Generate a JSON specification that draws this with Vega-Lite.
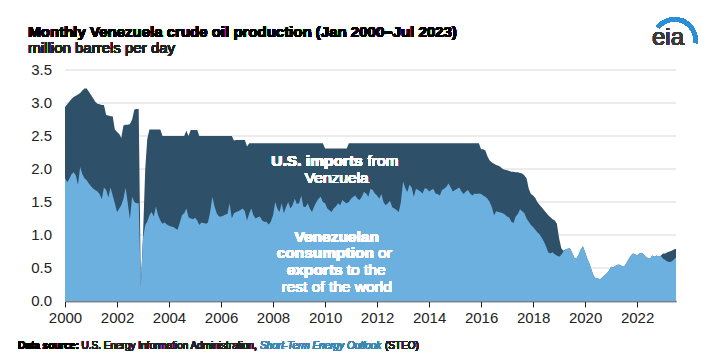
{
  "$schema": "https://vega.github.io/schema/vega-lite/v6.json",
  "width": 611,
  "height": 231,
  "autosize": {"type": "none"},
  "padding": {"left": 65, "top": 70, "right": 37, "bottom": 55},
  "background": "white",
  "config": {"view": {"stroke": null}, "font": "Liberation Sans", "text": {"font": "Liberation Sans"}},
  "datasets": {
    "yticks": [{"v": 0}, {"v": 0.5}, {"v": 1}, {"v": 1.5}, {"v": 2}, {"v": 2.5}, {"v": 3}, {"v": 3.5}],
    "production": [
    {"date":"2000-01-01","total":2.94,"other":1.86},{"date":"2000-02-01","total":2.98,"other":1.80},{"date":"2000-03-01","total":3.02,"other":1.85},{"date":"2000-04-01","total":3.06,"other":1.92},{"date":"2000-05-01","total":3.09,"other":1.95},{"date":"2000-06-01","total":3.11,"other":1.90},{"date":"2000-07-01","total":3.13,"other":1.76},{"date":"2000-08-01","total":3.15,"other":2.03},{"date":"2000-09-01","total":3.19,"other":1.92},{"date":"2000-10-01","total":3.22,"other":1.86},{"date":"2000-11-01","total":3.22,"other":1.83},{"date":"2000-12-01","total":3.17,"other":1.78},
    {"date":"2001-01-01","total":3.12,"other":1.74},{"date":"2001-02-01","total":3.07,"other":1.70},{"date":"2001-03-01","total":3.02,"other":1.68},{"date":"2001-04-01","total":2.99,"other":1.66},{"date":"2001-05-01","total":2.98,"other":1.62},{"date":"2001-06-01","total":2.97,"other":1.54},{"date":"2001-07-01","total":2.97,"other":1.72},{"date":"2001-08-01","total":2.82,"other":1.68},{"date":"2001-09-01","total":2.81,"other":1.57},{"date":"2001-10-01","total":2.80,"other":1.72},{"date":"2001-11-01","total":2.80,"other":1.60},{"date":"2001-12-01","total":2.60,"other":1.48},
    {"date":"2002-01-01","total":2.56,"other":1.35},{"date":"2002-02-01","total":2.53,"other":1.40},{"date":"2002-03-01","total":2.47,"other":1.45},{"date":"2002-04-01","total":2.66,"other":1.55},{"date":"2002-05-01","total":2.67,"other":1.72},{"date":"2002-06-01","total":2.67,"other":1.48},{"date":"2002-07-01","total":2.68,"other":1.24},{"date":"2002-08-01","total":2.75,"other":1.58},{"date":"2002-09-01","total":2.90,"other":1.50},{"date":"2002-10-01","total":2.91,"other":1.48},{"date":"2002-11-01","total":2.91,"other":1.48},{"date":"2002-12-01","total":0.25,"other":0.22},
    {"date":"2003-01-01","total":1.00,"other":0.95},{"date":"2003-02-01","total":2.00,"other":1.15},{"date":"2003-03-01","total":2.45,"other":1.20},{"date":"2003-04-01","total":2.60,"other":1.30},{"date":"2003-05-01","total":2.60,"other":1.35},{"date":"2003-06-01","total":2.60,"other":1.28},{"date":"2003-07-01","total":2.60,"other":1.43},{"date":"2003-08-01","total":2.60,"other":1.30},{"date":"2003-09-01","total":2.60,"other":1.22},{"date":"2003-10-01","total":2.50,"other":1.17},{"date":"2003-11-01","total":2.50,"other":1.19},{"date":"2003-12-01","total":2.50,"other":1.16},
    {"date":"2004-01-01","total":2.50,"other":1.14},{"date":"2004-02-01","total":2.50,"other":1.13},{"date":"2004-03-01","total":2.50,"other":1.12},{"date":"2004-04-01","total":2.50,"other":1.10},{"date":"2004-05-01","total":2.50,"other":1.08},{"date":"2004-06-01","total":2.50,"other":1.19},{"date":"2004-07-01","total":2.50,"other":1.30},{"date":"2004-08-01","total":2.50,"other":1.33},{"date":"2004-09-01","total":2.58,"other":1.40},{"date":"2004-10-01","total":2.50,"other":1.27},{"date":"2004-11-01","total":2.59,"other":1.25},{"date":"2004-12-01","total":2.59,"other":1.24},
    {"date":"2005-01-01","total":2.59,"other":1.26},{"date":"2005-02-01","total":2.59,"other":1.22},{"date":"2005-03-01","total":2.50,"other":1.15},{"date":"2005-04-01","total":2.50,"other":1.19},{"date":"2005-05-01","total":2.50,"other":1.18},{"date":"2005-06-01","total":2.50,"other":1.17},{"date":"2005-07-01","total":2.50,"other":1.19},{"date":"2005-08-01","total":2.50,"other":1.35},{"date":"2005-09-01","total":2.50,"other":1.58},{"date":"2005-10-01","total":2.50,"other":1.43},{"date":"2005-11-01","total":2.50,"other":1.33},{"date":"2005-12-01","total":2.50,"other":1.28},
    {"date":"2006-01-01","total":2.50,"other":1.28},{"date":"2006-02-01","total":2.50,"other":1.29},{"date":"2006-03-01","total":2.50,"other":1.31},{"date":"2006-04-01","total":2.50,"other":1.32},{"date":"2006-05-01","total":2.50,"other":1.48},{"date":"2006-06-01","total":2.50,"other":1.25},{"date":"2006-07-01","total":2.43,"other":1.33},{"date":"2006-08-01","total":2.44,"other":1.35},{"date":"2006-09-01","total":2.44,"other":1.36},{"date":"2006-10-01","total":2.44,"other":1.38},{"date":"2006-11-01","total":2.44,"other":1.40},{"date":"2006-12-01","total":2.44,"other":1.36},
    {"date":"2007-01-01","total":2.34,"other":1.22},{"date":"2007-02-01","total":2.39,"other":1.33},{"date":"2007-03-01","total":2.39,"other":1.40},{"date":"2007-04-01","total":2.39,"other":1.30},{"date":"2007-05-01","total":2.39,"other":1.25},{"date":"2007-06-01","total":2.39,"other":1.27},{"date":"2007-07-01","total":2.39,"other":1.28},{"date":"2007-08-01","total":2.39,"other":1.22},{"date":"2007-09-01","total":2.39,"other":1.20},{"date":"2007-10-01","total":2.39,"other":1.20},{"date":"2007-11-01","total":2.39,"other":1.16},{"date":"2007-12-01","total":2.39,"other":1.20},
    {"date":"2008-01-01","total":2.39,"other":1.30},{"date":"2008-02-01","total":2.39,"other":1.50},{"date":"2008-03-01","total":2.39,"other":1.40},{"date":"2008-04-01","total":2.39,"other":1.35},{"date":"2008-05-01","total":2.39,"other":1.48},{"date":"2008-06-01","total":2.39,"other":1.33},{"date":"2008-07-01","total":2.39,"other":1.42},{"date":"2008-08-01","total":2.39,"other":1.50},{"date":"2008-09-01","total":2.39,"other":1.40},{"date":"2008-10-01","total":2.39,"other":1.45},{"date":"2008-11-01","total":2.39,"other":1.55},{"date":"2008-12-01","total":2.39,"other":1.47},
    {"date":"2009-01-01","total":2.39,"other":1.48},{"date":"2009-02-01","total":2.39,"other":1.60},{"date":"2009-03-01","total":2.39,"other":1.43},{"date":"2009-04-01","total":2.39,"other":1.42},{"date":"2009-05-01","total":2.39,"other":1.48},{"date":"2009-06-01","total":2.39,"other":1.40},{"date":"2009-07-01","total":2.39,"other":1.35},{"date":"2009-08-01","total":2.39,"other":1.43},{"date":"2009-09-01","total":2.39,"other":1.50},{"date":"2009-10-01","total":2.39,"other":1.55},{"date":"2009-11-01","total":2.39,"other":1.58},{"date":"2009-12-01","total":2.39,"other":1.50},
    {"date":"2010-01-01","total":2.31,"other":1.48},{"date":"2010-02-01","total":2.31,"other":1.40},{"date":"2010-03-01","total":2.31,"other":1.38},{"date":"2010-04-01","total":2.31,"other":1.35},{"date":"2010-05-01","total":2.31,"other":1.40},{"date":"2010-06-01","total":2.31,"other":1.43},{"date":"2010-07-01","total":2.31,"other":1.48},{"date":"2010-08-01","total":2.31,"other":1.45},{"date":"2010-09-01","total":2.31,"other":1.53},{"date":"2010-10-01","total":2.31,"other":1.50},{"date":"2010-11-01","total":2.31,"other":1.48},{"date":"2010-12-01","total":2.39,"other":1.50},
    {"date":"2011-01-01","total":2.39,"other":1.55},{"date":"2011-02-01","total":2.39,"other":1.58},{"date":"2011-03-01","total":2.39,"other":1.60},{"date":"2011-04-01","total":2.39,"other":1.55},{"date":"2011-05-01","total":2.39,"other":1.53},{"date":"2011-06-01","total":2.39,"other":1.58},{"date":"2011-07-01","total":2.39,"other":1.65},{"date":"2011-08-01","total":2.39,"other":1.63},{"date":"2011-09-01","total":2.39,"other":1.58},{"date":"2011-10-01","total":2.39,"other":1.70},{"date":"2011-11-01","total":2.39,"other":1.68},{"date":"2011-12-01","total":2.39,"other":1.63},
    {"date":"2012-01-01","total":2.39,"other":1.60},{"date":"2012-02-01","total":2.39,"other":1.55},{"date":"2012-03-01","total":2.39,"other":1.62},{"date":"2012-04-01","total":2.39,"other":1.50},{"date":"2012-05-01","total":2.39,"other":1.45},{"date":"2012-06-01","total":2.39,"other":1.48},{"date":"2012-07-01","total":2.39,"other":1.52},{"date":"2012-08-01","total":2.39,"other":1.42},{"date":"2012-09-01","total":2.39,"other":1.40},{"date":"2012-10-01","total":2.39,"other":1.38},{"date":"2012-11-01","total":2.39,"other":1.35},{"date":"2012-12-01","total":2.39,"other":1.50},
    {"date":"2013-01-01","total":2.39,"other":1.81},{"date":"2013-02-01","total":2.39,"other":1.71},{"date":"2013-03-01","total":2.39,"other":1.65},{"date":"2013-04-01","total":2.39,"other":1.76},{"date":"2013-05-01","total":2.39,"other":1.72},{"date":"2013-06-01","total":2.39,"other":1.58},{"date":"2013-07-01","total":2.39,"other":1.70},{"date":"2013-08-01","total":2.39,"other":1.68},{"date":"2013-09-01","total":2.39,"other":1.66},{"date":"2013-10-01","total":2.39,"other":1.63},{"date":"2013-11-01","total":2.39,"other":1.71},{"date":"2013-12-01","total":2.39,"other":1.70},
    {"date":"2014-01-01","total":2.39,"other":1.66},{"date":"2014-02-01","total":2.39,"other":1.68},{"date":"2014-03-01","total":2.39,"other":1.70},{"date":"2014-04-01","total":2.39,"other":1.63},{"date":"2014-05-01","total":2.39,"other":1.62},{"date":"2014-06-01","total":2.39,"other":1.60},{"date":"2014-07-01","total":2.39,"other":1.68},{"date":"2014-08-01","total":2.39,"other":1.70},{"date":"2014-09-01","total":2.39,"other":1.73},{"date":"2014-10-01","total":2.39,"other":1.78},{"date":"2014-11-01","total":2.39,"other":1.72},{"date":"2014-12-01","total":2.39,"other":1.66},
    {"date":"2015-01-01","total":2.39,"other":1.68},{"date":"2015-02-01","total":2.39,"other":1.70},{"date":"2015-03-01","total":2.39,"other":1.72},{"date":"2015-04-01","total":2.39,"other":1.66},{"date":"2015-05-01","total":2.39,"other":1.62},{"date":"2015-06-01","total":2.39,"other":1.66},{"date":"2015-07-01","total":2.39,"other":1.68},{"date":"2015-08-01","total":2.39,"other":1.63},{"date":"2015-09-01","total":2.39,"other":1.60},{"date":"2015-10-01","total":2.39,"other":1.63},{"date":"2015-11-01","total":2.39,"other":1.62},{"date":"2015-12-01","total":2.39,"other":1.63},
    {"date":"2016-01-01","total":2.30,"other":1.62},{"date":"2016-02-01","total":2.30,"other":1.60},{"date":"2016-03-01","total":2.28,"other":1.58},{"date":"2016-04-01","total":2.19,"other":1.55},{"date":"2016-05-01","total":2.13,"other":1.50},{"date":"2016-06-01","total":2.10,"other":1.42},{"date":"2016-07-01","total":2.08,"other":1.30},{"date":"2016-08-01","total":2.06,"other":1.36},{"date":"2016-09-01","total":2.05,"other":1.35},{"date":"2016-10-01","total":2.03,"other":1.34},{"date":"2016-11-01","total":2.00,"other":1.33},{"date":"2016-12-01","total":1.99,"other":1.31},
    {"date":"2017-01-01","total":1.98,"other":1.28},{"date":"2017-02-01","total":1.97,"other":1.26},{"date":"2017-03-01","total":1.96,"other":1.20},{"date":"2017-04-01","total":1.96,"other":1.18},{"date":"2017-05-01","total":1.95,"other":1.28},{"date":"2017-06-01","total":1.95,"other":1.32},{"date":"2017-07-01","total":1.94,"other":1.39},{"date":"2017-08-01","total":1.93,"other":1.36},{"date":"2017-09-01","total":1.90,"other":1.33},{"date":"2017-10-01","total":1.86,"other":1.25},{"date":"2017-11-01","total":1.70,"other":1.20},{"date":"2017-12-01","total":1.62,"other":1.15},
    {"date":"2018-01-01","total":1.60,"other":1.12},{"date":"2018-02-01","total":1.56,"other":1.08},{"date":"2018-03-01","total":1.50,"other":1.04},{"date":"2018-04-01","total":1.46,"other":1.01},{"date":"2018-05-01","total":1.42,"other":0.96},{"date":"2018-06-01","total":1.38,"other":0.90},{"date":"2018-07-01","total":1.34,"other":0.83},{"date":"2018-08-01","total":1.30,"other":0.74},{"date":"2018-09-01","total":1.27,"other":0.72},{"date":"2018-10-01","total":1.24,"other":0.74},{"date":"2018-11-01","total":1.22,"other":0.71},{"date":"2018-12-01","total":1.17,"other":0.69},
    {"date":"2019-01-01","total":0.95,"other":0.67},{"date":"2019-02-01","total":0.80,"other":0.70},{"date":"2019-03-01","total":0.76,"other":0.75},{"date":"2019-04-01","total":0.78,"other":0.78},{"date":"2019-05-01","total":0.79,"other":0.79},{"date":"2019-06-01","total":0.80,"other":0.80},{"date":"2019-07-01","total":0.74,"other":0.74},{"date":"2019-08-01","total":0.66,"other":0.66},{"date":"2019-09-01","total":0.64,"other":0.64},{"date":"2019-10-01","total":0.70,"other":0.70},{"date":"2019-11-01","total":0.78,"other":0.78},{"date":"2019-12-01","total":0.83,"other":0.83},
    {"date":"2020-01-01","total":0.74,"other":0.74},{"date":"2020-02-01","total":0.64,"other":0.64},{"date":"2020-03-01","total":0.57,"other":0.57},{"date":"2020-04-01","total":0.47,"other":0.47},{"date":"2020-05-01","total":0.38,"other":0.38},{"date":"2020-06-01","total":0.34,"other":0.34},{"date":"2020-07-01","total":0.34,"other":0.34},{"date":"2020-08-01","total":0.33,"other":0.33},{"date":"2020-09-01","total":0.36,"other":0.36},{"date":"2020-10-01","total":0.39,"other":0.39},{"date":"2020-11-01","total":0.42,"other":0.42},{"date":"2020-12-01","total":0.46,"other":0.46},
    {"date":"2021-01-01","total":0.52,"other":0.52},{"date":"2021-02-01","total":0.51,"other":0.51},{"date":"2021-03-01","total":0.53,"other":0.53},{"date":"2021-04-01","total":0.55,"other":0.55},{"date":"2021-05-01","total":0.55,"other":0.55},{"date":"2021-06-01","total":0.53,"other":0.53},{"date":"2021-07-01","total":0.52,"other":0.52},{"date":"2021-08-01","total":0.57,"other":0.57},{"date":"2021-09-01","total":0.63,"other":0.63},{"date":"2021-10-01","total":0.68,"other":0.68},{"date":"2021-11-01","total":0.72,"other":0.72},{"date":"2021-12-01","total":0.71,"other":0.71},
    {"date":"2022-01-01","total":0.69,"other":0.69},{"date":"2022-02-01","total":0.72,"other":0.72},{"date":"2022-03-01","total":0.73,"other":0.73},{"date":"2022-04-01","total":0.71,"other":0.71},{"date":"2022-05-01","total":0.67,"other":0.67},{"date":"2022-06-01","total":0.65,"other":0.65},{"date":"2022-07-01","total":0.64,"other":0.64},{"date":"2022-08-01","total":0.69,"other":0.69},{"date":"2022-09-01","total":0.67,"other":0.67},{"date":"2022-10-01","total":0.69,"other":0.69},{"date":"2022-11-01","total":0.67,"other":0.67},{"date":"2022-12-01","total":0.69,"other":0.68},
    {"date":"2023-01-01","total":0.72,"other":0.64},{"date":"2023-02-01","total":0.72,"other":0.62},{"date":"2023-03-01","total":0.74,"other":0.60},{"date":"2023-04-01","total":0.75,"other":0.59},{"date":"2023-05-01","total":0.76,"other":0.60},{"date":"2023-06-01","total":0.78,"other":0.63},{"date":"2023-07-01","total":0.79,"other":0.66}
    ]
  },
  "data": {"name": "production"},
  "layer": [
    {
      "data": {"name": "yticks"},
      "mark": {"type": "rule", "color": "#d9d9d9", "strokeWidth": 1},
      "encoding": {
        "y": {"field": "v", "type": "quantitative", "axis": null, "scale": {"domain": [0, 3.5], "nice": false, "zero": true}}
      }
    },
    {
      "mark": {"type": "area", "color": "#2e5068", "interpolate": "linear"},
      "encoding": {
        "x": {"field": "date", "type": "temporal",
          "scale": {"type": "utc", "domain": [{"year": 2000, "month": 1, "date": 1, "utc": true}, {"year": 2023, "month": 7, "date": 1, "utc": true}]},
          "axis": {"title": null, "grid": false, "tickCount": {"interval": "year", "step": 2}, "labelExpr": "utcFormat(datum.value, '%Y')",
            "domainColor": "#222222", "domainWidth": 1.5, "tickColor": "#222222", "tickSize": 6, "tickWidth": 1,
            "labelFontSize": 15, "labelColor": "#222222", "labelPadding": 3, "labelOverlap": false, "labelFlush": false}},
        "y": {"field": "total", "type": "quantitative", "axis": null}
      }
    },
    {
      "mark": {"type": "area", "color": "#6cb0e0", "interpolate": "linear"},
      "encoding": {
        "x": {"field": "date", "type": "temporal"},
        "y": {"field": "other", "type": "quantitative", "axis": null}
      }
    },
    {
      "data": {"name": "yticks"},
      "mark": {"type": "text", "align": "right", "baseline": "middle", "dx": -13, "fontSize": 15, "color": "#222222"},
      "encoding": {
        "x": {"datum": {"year": 2000, "month": 1, "date": 1, "utc": true}, "type": "temporal"},
        "y": {"field": "v", "type": "quantitative", "axis": null},
        "text": {"field": "v", "type": "quantitative", "format": ".1f"}
      }
    },
    {
      "mark": {"type": "text", "align": "right", "baseline": "alphabetic", "fontSize": 15.5, "fontWeight": "bold", "color": "white"},
      "encoding": {"x": {"datum": {"year": 2011, "month": 6, "date": 13, "utc": true}, "type": "temporal"}, "y": {"datum": 2.045, "axis": null}, "text": {"value": "U.S. imports"}}
    },
    {
      "mark": {"type": "text", "align": "left", "baseline": "alphabetic", "fontSize": 15.5, "color": "white"},
      "encoding": {"x": {"datum": {"year": 2011, "month": 8, "date": 20, "utc": true}, "type": "temporal"}, "y": {"datum": 2.045, "axis": null}, "text": {"value": "from"}}
    },
    {
      "mark": {"type": "text", "align": "center", "baseline": "alphabetic", "fontSize": 15.5, "color": "white"},
      "encoding": {"x": {"datum": {"year": 2010, "month": 6, "date": 13, "utc": true}, "type": "temporal"}, "y": {"datum": 1.783, "axis": null}, "text": {"value": "Venzuela"}}
    },
    {
      "mark": {"type": "text", "align": "center", "baseline": "alphabetic", "fontSize": 15.5, "fontWeight": "bold", "color": "white"},
      "encoding": {"x": {"datum": {"year": 2010, "month": 6, "date": 13, "utc": true}, "type": "temporal"}, "y": {"datum": 0.898, "axis": null}, "text": {"value": "Venezuelan"}}
    },
    {
      "mark": {"type": "text", "align": "right", "baseline": "alphabetic", "fontSize": 15.5, "fontWeight": "bold", "color": "white"},
      "encoding": {"x": {"datum": {"year": 2011, "month": 11, "date": 19, "utc": true}, "type": "temporal"}, "y": {"datum": 0.647, "axis": null}, "text": {"value": "consumption"}}
    },
    {
      "mark": {"type": "text", "align": "left", "baseline": "alphabetic", "fontSize": 15.5, "color": "white"},
      "encoding": {"x": {"datum": {"year": 2012, "month": 1, "date": 15, "utc": true}, "type": "temporal"}, "y": {"datum": 0.647, "axis": null}, "text": {"value": "or"}}
    },
    {
      "mark": {"type": "text", "align": "right", "baseline": "alphabetic", "fontSize": 15.5, "fontWeight": "bold", "color": "white"},
      "encoding": {"x": {"datum": {"year": 2010, "month": 9, "date": 6, "utc": true}, "type": "temporal"}, "y": {"datum": 0.394, "axis": null}, "text": {"value": "exports"}}
    },
    {
      "mark": {"type": "text", "align": "left", "baseline": "alphabetic", "fontSize": 15.5, "color": "white"},
      "encoding": {"x": {"datum": {"year": 2010, "month": 11, "date": 1, "utc": true}, "type": "temporal"}, "y": {"datum": 0.394, "axis": null}, "text": {"value": "to the"}}
    },
    {
      "mark": {"type": "text", "align": "center", "baseline": "alphabetic", "fontSize": 15.5, "color": "white"},
      "encoding": {"x": {"datum": {"year": 2010, "month": 6, "date": 13, "utc": true}, "type": "temporal"}, "y": {"datum": 0.141, "axis": null}, "text": {"value": "rest of the world"}}
    },
    {
      "mark": {"type": "text", "align": "left", "baseline": "alphabetic", "fontSize": 15, "fontWeight": "bold", "color": "#000000"},
      "encoding": {"x": {"datum": {"year": 1998, "month": 8, "date": 4, "utc": true}, "type": "temporal"}, "y": {"datum": 4.005, "axis": null}, "text": {"value": "Monthly Venezuela crude oil production (Jan 2000–Jul 2023)"}}
    },
    {
      "mark": {"type": "text", "align": "left", "baseline": "alphabetic", "fontSize": 15, "color": "#222222"},
      "encoding": {"x": {"datum": {"year": 1998, "month": 8, "date": 4, "utc": true}, "type": "temporal"}, "y": {"datum": 3.753, "axis": null}, "text": {"value": "million barrels per day"}}
    },
    {
      "mark": {"type": "arc", "innerRadius": 19, "outerRadius": 23, "theta": -0.9, "theta2": 1.7, "color": "#2a8fd6"},
      "encoding": {"x": {"datum": {"year": 2023, "month": 6, "date": 10, "utc": true}, "type": "temporal"}, "y": {"datum": 3.95, "axis": null}}
    },
    {
      "mark": {"type": "text", "align": "center", "baseline": "alphabetic", "fontSize": 24, "color": "#3a3a3a"},
      "encoding": {"x": {"datum": {"year": 2023, "month": 3, "date": 11, "utc": true}, "type": "temporal"}, "y": {"datum": 3.88, "axis": null}, "text": {"value": "eia"}}
    },
    {
      "mark": {"type": "text", "align": "left", "baseline": "alphabetic", "fontSize": 10, "fontWeight": "bold", "color": "#000000"},
      "encoding": {"x": {"datum": {"year": 1998, "month": 3, "date": 14, "utc": true}, "type": "temporal"}, "y": {"datum": -0.727, "axis": null}, "text": {"value": "Data source:"}}
    },
    {
      "mark": {"type": "text", "align": "left", "baseline": "alphabetic", "fontSize": 10, "color": "#222222"},
      "encoding": {"x": {"datum": {"year": 2000, "month": 8, "date": 21, "utc": true}, "type": "temporal"}, "y": {"datum": -0.727, "axis": null}, "text": {"value": "U.S. Energy Information Administration,"}}
    },
    {
      "mark": {"type": "text", "align": "left", "baseline": "alphabetic", "fontSize": 10, "fontStyle": "italic", "color": "#3d87b0"},
      "encoding": {"x": {"datum": {"year": 2007, "month": 7, "date": 2, "utc": true}, "type": "temporal"}, "y": {"datum": -0.727, "axis": null}, "text": {"value": "Short-Term Energy Outlook"}}
    },
    {
      "mark": {"type": "text", "align": "left", "baseline": "alphabetic", "fontSize": 10, "color": "#222222"},
      "encoding": {"x": {"datum": {"year": 2012, "month": 4, "date": 22, "utc": true}, "type": "temporal"}, "y": {"datum": -0.727, "axis": null}, "text": {"value": "(STEO)"}}
    }
  ]
}
